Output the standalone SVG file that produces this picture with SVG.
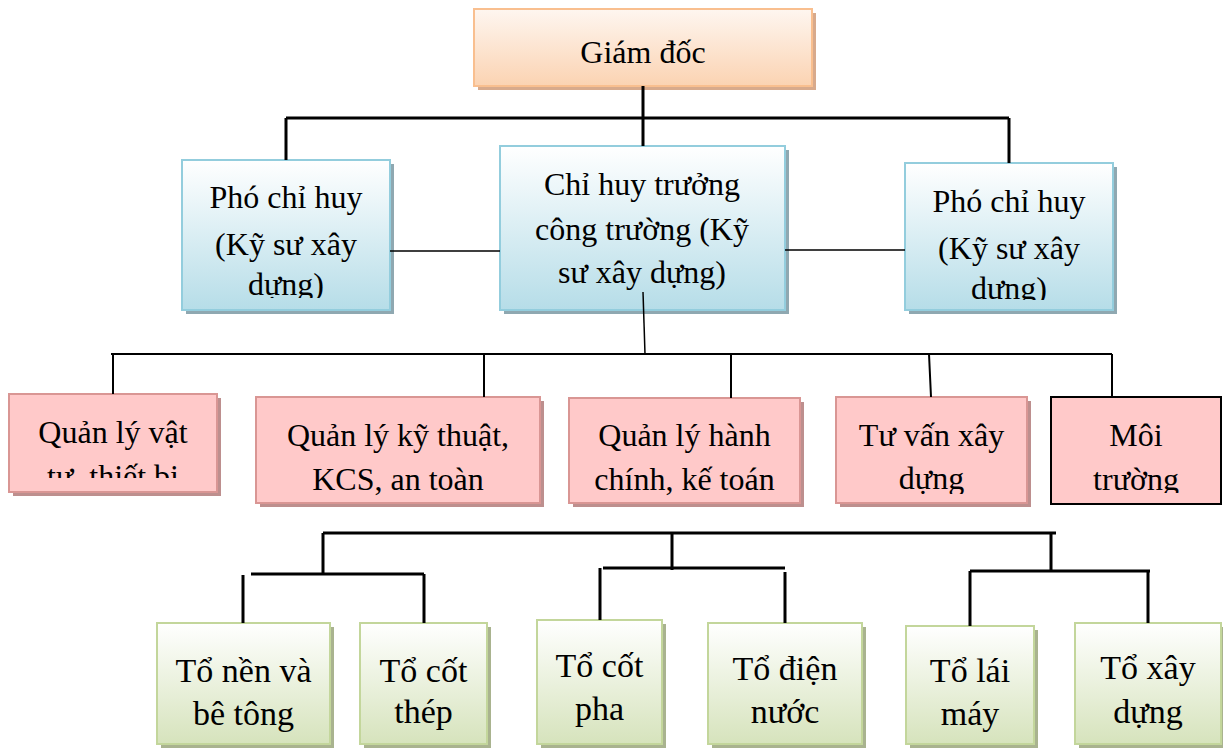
<svg xmlns="http://www.w3.org/2000/svg" width="1223" height="749" viewBox="0 0 1223 749">
<defs>
<linearGradient id="gPeach" x1="0" y1="0" x2="0" y2="1">
<stop offset="0" stop-color="#fef6f0"/><stop offset="1" stop-color="#fbd3b2"/>
</linearGradient>
<linearGradient id="gBlue" x1="0" y1="0" x2="0" y2="1">
<stop offset="0" stop-color="#ffffff"/><stop offset="1" stop-color="#b6dde8"/>
</linearGradient>
<linearGradient id="gGreen" x1="0" y1="0" x2="0" y2="1">
<stop offset="0" stop-color="#ffffff"/><stop offset="1" stop-color="#d6e3bc"/>
</linearGradient>
<clipPath id="cPhoL"><rect x="182" y="160" width="208" height="138"/></clipPath>
<clipPath id="cPhoR"><rect x="905" y="163" width="208" height="137"/></clipPath>
<clipPath id="cVT"><rect x="9" y="394" width="208" height="84"/></clipPath>
<clipPath id="cTV"><rect x="836" y="397" width="191" height="97"/></clipPath>
<clipPath id="cMT"><rect x="1051" y="397" width="170" height="96"/></clipPath>
</defs>
<style>
text{font-family:"Liberation Serif","Times New Roman",serif;font-size:32px;fill:#000;text-anchor:middle}
.big text{font-size:34px}
.peach{fill:url(#gPeach);stroke:#f9bf8f;stroke-width:2}
.peachS{fill:#d8aa8c}
.blue{fill:url(#gBlue);stroke:#93cddd;stroke-width:2}
.blueS{fill:#8fa8b1}
.pink{fill:#ffc9c9;stroke:#d99694;stroke-width:2}
.pinkS{fill:#bd8f8e}
.green{fill:url(#gGreen);stroke:#c3d69b;stroke-width:2}
.greenS{fill:#a9b38f}
.thick{stroke:#000;stroke-width:3;fill:none}
.mid{stroke:#000;stroke-width:2;fill:none}
.thin{stroke:#000;stroke-width:1.5;fill:none}
</style>

<g id="giam-doc">
<rect class="peachS" x="478" y="13" width="338" height="77"/>
<rect class="peach" x="474" y="9" width="338" height="77"/>
<text x="643" y="63">Giám đốc</text>
</g>

<g id="pho-chi-huy-trai">
<rect class="blueS" x="186" y="164" width="208" height="150"/>
<rect class="blue" x="182" y="160" width="208" height="150"/>
<g clip-path="url(#cPhoL)">
<text x="286" y="208">Phó chỉ huy</text>
<text x="286" y="255">(Kỹ sư xây</text>
<text x="286" y="295">dựng)</text>
</g>
</g>

<g id="chi-huy-truong">
<rect class="blueS" x="504" y="150" width="285" height="164"/>
<rect class="blue" x="500" y="146" width="285" height="164"/>
<text x="642" y="195">Chỉ huy trưởng</text>
<text x="642" y="240">công trường (Kỹ</text>
<text x="642" y="283">sư xây dựng)</text>
</g>

<g id="pho-chi-huy-phai">
<rect class="blueS" x="909" y="167" width="208" height="147"/>
<rect class="blue" x="905" y="163" width="208" height="147"/>
<g clip-path="url(#cPhoR)">
<text x="1009" y="212">Phó chỉ huy</text>
<text x="1009" y="259">(Kỹ sư xây</text>
<text x="1009" y="299">dựng)</text>
</g>
</g>

<g id="ql-vat-tu">
<rect class="pinkS" x="13" y="398" width="208" height="98"/>
<rect class="pink" x="9" y="394" width="208" height="98"/>
<g clip-path="url(#cVT)">
<text x="113" y="443">Quản lý vật</text>
<text x="113" y="487">tư, thiết bị</text>
</g>
</g>

<g id="ql-ky-thuat">
<rect class="pinkS" x="260" y="401" width="284" height="106"/>
<rect class="pink" x="256" y="397" width="284" height="106"/>
<text x="398" y="446">Quản lý kỹ thuật,</text>
<text x="398" y="490">KCS, an toàn</text>
</g>

<g id="ql-hanh-chinh">
<rect class="pinkS" x="573" y="402" width="231" height="105"/>
<rect class="pink" x="569" y="398" width="231" height="105"/>
<text x="684.5" y="446">Quản lý hành</text>
<text x="684.5" y="490">chính, kế toán</text>
</g>

<g id="tu-van">
<rect class="pinkS" x="840" y="401" width="191" height="106"/>
<rect class="pink" x="836" y="397" width="191" height="106"/>
<g clip-path="url(#cTV)">
<text x="931.5" y="446">Tư vấn xây</text>
<text x="931.5" y="489">dựng</text>
</g>
</g>

<g id="moi-truong">
<rect x="1051" y="397" width="170" height="107" fill="#ffc9c9" stroke="#000" stroke-width="2"/>
<g clip-path="url(#cMT)">
<text x="1136" y="446">Môi</text>
<text x="1136" y="490">trường</text>
</g>
</g>

<g id="to-nen" class="big">
<rect class="greenS" x="161" y="627" width="173" height="121"/>
<rect class="green" x="157" y="623" width="173" height="121"/>
<text x="243.5" y="682">Tổ nền và</text>
<text x="243.5" y="725">bê tông</text>
</g>

<g id="to-cot-thep" class="big">
<rect class="greenS" x="364" y="627" width="127" height="121"/>
<rect class="green" x="360" y="623" width="127" height="121"/>
<text x="423.5" y="682">Tổ cốt</text>
<text x="423.5" y="723">thép</text>
</g>

<g id="to-cot-pha" class="big">
<rect class="greenS" x="541" y="624" width="125" height="124"/>
<rect class="green" x="537" y="620" width="125" height="124"/>
<text x="599.5" y="677">Tổ cốt</text>
<text x="599.5" y="720">pha</text>
</g>

<g id="to-dien-nuoc" class="big">
<rect class="greenS" x="712" y="627" width="154" height="121"/>
<rect class="green" x="708" y="623" width="154" height="121"/>
<text x="785" y="680">Tổ điện</text>
<text x="785" y="723">nước</text>
</g>

<g id="to-lai-may" class="big">
<rect class="greenS" x="910" y="630" width="128" height="118"/>
<rect class="green" x="906" y="626" width="128" height="118"/>
<text x="970" y="682">Tổ lái</text>
<text x="970" y="725">máy</text>
</g>

<g id="to-xay-dung" class="big">
<rect class="greenS" x="1079" y="627" width="146" height="121"/>
<rect class="green" x="1075" y="623" width="146" height="121"/>
<text x="1148" y="679">Tổ xây</text>
<text x="1148" y="723">dựng</text>
</g>

<g id="connectors">
<path class="thick" d="M643 86V146M286 118H1009M286 118V160M1009 118V163"/>
<path class="thin" d="M390 251H500M785 250H905"/>
<path class="thin" d="M643 292L645 354"/>
<path class="mid" d="M111 354H1112M113 354V394M484 354V397M731 354V398M929 354L931 397M1112 354V397"/>
<path class="thick" d="M323 533H1056M323 533V574M251 574H424M243 575V623M424 574V623"/>
<path class="thick" d="M672 533V570M603 568H785M600 568V620M785 572V623"/>
<path class="thick" d="M1051 533V571M970 571H1150M970 571V626M1148 571V623"/>
</g>
</svg>
